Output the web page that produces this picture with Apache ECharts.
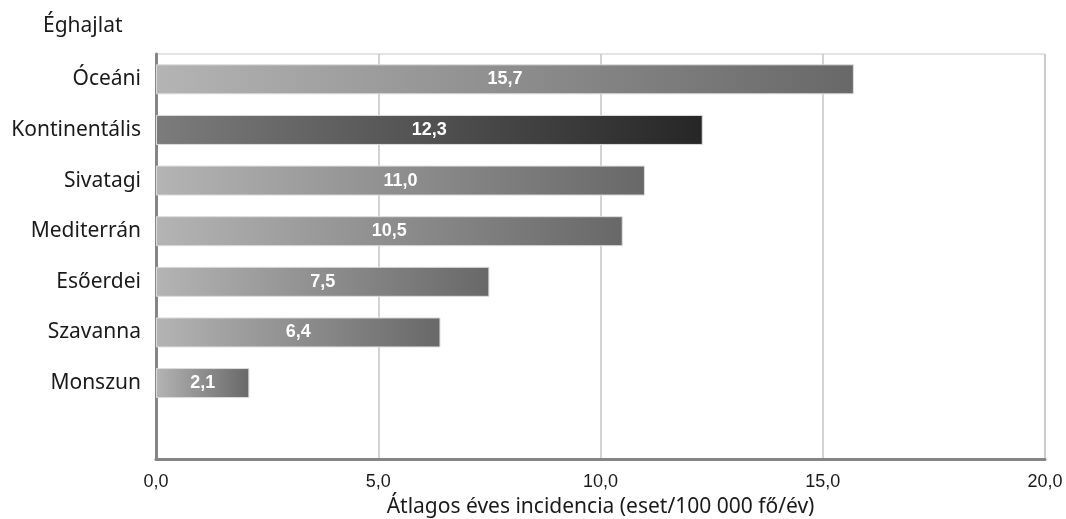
<!DOCTYPE html>
<html>
<head>
<meta charset="utf-8">
<script src="https://cdn.jsdelivr.net/npm/echarts@6/dist/echarts.min.js"></script>
<style>
  html, body { margin: 0; padding: 0; background: #fff; }
  #chart { width: 1066px; height: 519px; }
</style>
</head>
<body>
<div id="chart"></div>
<script>
// Climate categories (top to bottom); the trailing blank slot leaves space above the axis
const categories = ['Óceáni', 'Kontinentális', 'Sivatagi', 'Mediterrán', 'Esőerdei', 'Szavanna', 'Monszun', ''];
// Average yearly incidence (cases / 100 000 people / year)
const incidence = [15.7, 12.3, 11.0, 10.5, 7.5, 6.4, 2.1, null];
// Highlighted category
const highlighted = ['Kontinentális'];
const xTicks = [0, 5, 10, 15, 20];

const fmt = v => Number(v).toFixed(1).replace('.', ',');

function barGradient(dark) {
  return new echarts.graphic.LinearGradient(0, 0, 1, 0, dark
    ? [{ offset: 0, color: '#7c7c7c' }, { offset: 1, color: '#262626' }]
    : [{ offset: 0, color: '#b4b4b4' }, { offset: 1, color: '#686868' }]);
}

const seriesData = categories.map((c, i) => incidence[i] == null ? '-' : {
  value: incidence[i],
  itemStyle: { color: barGradient(highlighted.includes(c)) }
});

const chart = echarts.init(document.getElementById('chart'), null, { renderer: 'canvas' });
chart.setOption({
  animation: false,
  backgroundColor: '#ffffff',
  title: {
    text: 'Éghajlat',
    left: 38, top: 11,
    textStyle: { fontFamily: 'Noto Sans', fontSize: 21, fontWeight: 'normal', color: '#1a1a1a' }
  },
  grid: {
    left: 156, right: 21, top: 54, bottom: 60,
    outerBoundsMode: 'none',
    containLabel: false,
    show: true, borderColor: '#c8c8c8', borderWidth: 1, backgroundColor: 'transparent'
  },
  xAxis: {
    type: 'value',
    min: xTicks[0], max: xTicks[xTicks.length - 1], interval: 5,
    name: 'Átlagos éves incidencia (eset/100 000 fő/év)',
    nameLocation: 'middle', nameGap: 38,
    nameTextStyle: { fontFamily: 'Noto Sans', fontSize: 21, color: '#1a1a1a' },
    axisLine: { show: true, lineStyle: { color: '#858585', width: 3 } },
    axisTick: { show: false },
    axisLabel: {
      margin: 14, fontFamily: 'Liberation Sans', fontSize: 18, color: '#1a1a1a',
      formatter: v => fmt(v)
    },
    splitLine: { show: true, lineStyle: { color: '#c4c4c4', width: 1.5 } }
  },
  yAxis: {
    type: 'category',
    data: categories,
    inverse: true,
    axisLine: { show: true, onZero: false, lineStyle: { color: '#858585', width: 3 } },
    axisTick: { show: false },
    axisLabel: { margin: 15, fontFamily: 'Noto Sans', fontSize: 21, color: '#1a1a1a' },
    splitLine: { show: false }
  },
  series: [{
    type: 'bar',
    data: seriesData,
    barWidth: 30,
    itemStyle: { borderColor: '#dcdcdc', borderWidth: 1 },
    label: {
      show: true, position: 'inside',
      fontFamily: 'Liberation Sans', fontWeight: 'bold', fontSize: 18, color: '#ffffff',
      formatter: p => fmt(p.value)
    }
  }]
});
</script>
</body>
</html>
